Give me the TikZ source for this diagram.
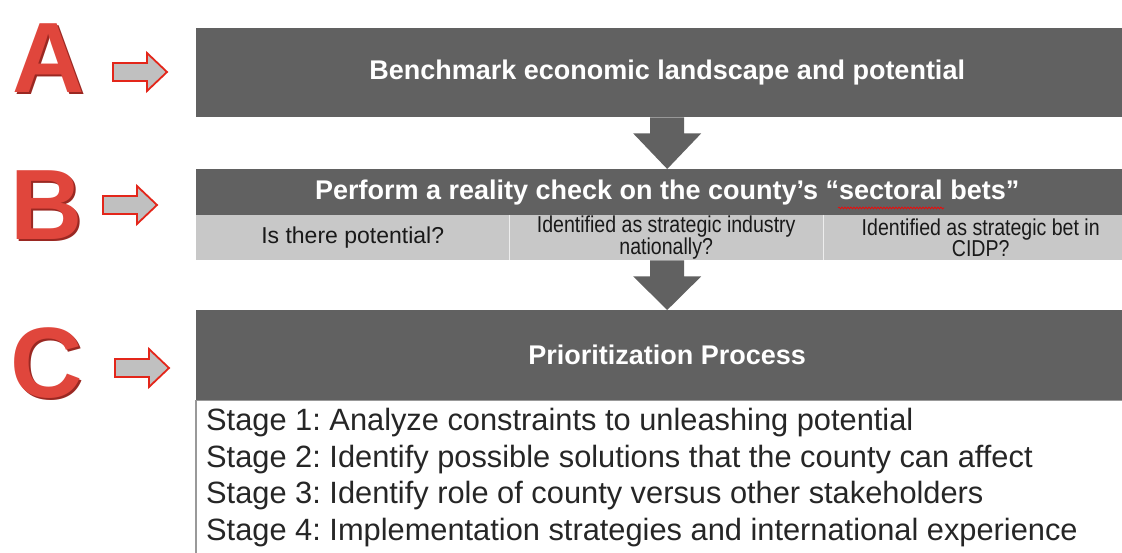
\documentclass[tikz,border=0pt]{standalone}
\usepackage{fontspec}
\setmainfont{Liberation Sans}
\newfontfamily\narrowsans[FakeStretch=0.85]{Liberation Sans}
\usetikzlibrary{calc,decorations.pathmorphing}

\definecolor{bandgray}{HTML}{616161}
\definecolor{cellgray}{HTML}{C8C8C8}
\definecolor{letterred}{HTML}{E0463C}
\definecolor{letterdark}{HTML}{9A2822}
\definecolor{arrowred}{HTML}{E3261A}
\definecolor{arrowfill}{HTML}{C0C0C0}

\tikzset{
  band/.style={fill=bandgray, text=white, font=\bfseries\fontsize{27}{30}\selectfont,
    minimum width=942, inner sep=0, anchor=north west},
  cell/.style={fill=cellgray, text=black!90, font=\fontsize{23}{17}\selectfont, align=center,
    minimum width=313, minimum height=45, inner sep=0, anchor=north west},
  narrowcell/.style={cell, font=\narrowsans\fontsize{23}{17}\selectfont},
  letter/.style={font=\bfseries\fontsize{100}{100}\selectfont, inner sep=0},
  sidearrow/.style={draw=arrowred, fill=arrowfill, line width=1.8pt, line join=miter},
  downarrow/.style={fill=bandgray},
  stagetext/.style={font=\frenchspacing\fontsize{30.8}{36.5}\selectfont, text=black!85, align=left,
    inner xsep=10, inner ysep=8, anchor=north west},
}

\begin{document}
\begin{tikzpicture}[x=1pt,y=-1pt]
\useasboundingbox (0,0) rectangle (1122,553);
\clip (0,0) rectangle (1122,553);

% letters on the left
\foreach \n/\ch/\cx/\cy in {letA/A/49/58, letB/B/47/205, letC/C/47/363}{
  \node[letter, text=letterdark] at (\cx+1.5,\cy+2.5) {\ch};
  \node[letter, text=letterred] (\n) at (\cx,\cy) {\ch};
}

% small arrows
\foreach \ax/\ay in {113/72, 103/205, 115/368}
  \draw[sidearrow] (\ax,\ay-9) -- (\ax+34,\ay-9) -- (\ax+34,\ay-19) -- (\ax+54,\ay)
    -- (\ax+34,\ay+19) -- (\ax+34,\ay+9) -- (\ax,\ay+9) -- cycle;

% A
\node[band, minimum height=89] (boxA) at (196,28) {Benchmark economic landscape and potential};

% B
\node[band, minimum height=46] (boxB) at (196,169) {Perform a reality check on the county’s “sectoral bets”};
\draw[red, line width=0.6pt, decorate, decoration={snake, amplitude=1pt, segment length=3pt}]
  (838,208) -- (944,208);
\node[cell] (cellA) at (196,215) {Is there potential?};
\node[narrowcell, minimum width=314] (cellB) at (509,215) {Identified as strategic industry\\nationally?};
\node[narrowcell, minimum width=315] (cellC) at (823,215) {Identified as strategic bet in\\CIDP?};
\draw[white!70!cellgray, line width=1.5pt] (cellA.north east) -- (cellA.south east);
\draw[white!70!cellgray, line width=1.5pt] (cellB.north east) -- (cellB.south east);

% C
\node[band, minimum height=90] (boxC) at (196,310) {Prioritization Process};
\draw[gray!80, line width=1.2pt] (boxC.south west) rectangle ++(942,170);
\node[stagetext] (stages) at (boxC.south west) {Stage 1: Analyze constraints to unleashing potential\\
Stage 2: Identify possible solutions that the county can affect\\
Stage 3: Identify role of county versus other stakeholders\\
Stage 4: Implementation strategies and international experience};

% arrows between the boxes
\coordinate (barB) at (boxC.north |- cellB.south);
\foreach \s/\t in {boxA.south/boxB.north, barB/boxC.north}
  \fill[downarrow] ($(\s)+(-17,0)$) -- ($(\s)+(17,0)$) -- ($(\s)+(17,16)$) -- ($(\s)+(34,16)$)
    -- (\t) -- ($(\s)+(-34,16)$) -- ($(\s)+(-17,16)$) -- cycle;
\end{tikzpicture}
\end{document}
